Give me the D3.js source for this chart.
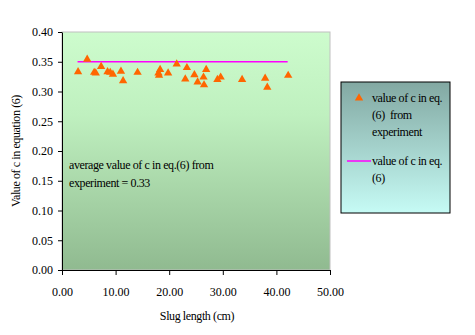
<!DOCTYPE html>
<html><head><meta charset="utf-8">
<script src="https://cdn.jsdelivr.net/npm/d3@7"></script>
<style>body{margin:0;background:#fff}svg{display:block}text{font-family:"Liberation Serif","Times New Roman",serif}</style>
</head><body>
<svg id="c" width="475" height="335"></svg>
<script>
const slugLength = [3.0,4.7,6.0,6.3,7.3,8.5,9.0,9.5,11.0,11.4,14.1,18.0,18.3,18.1,19.8,21.4,23.3,23.0,24.7,25.3,26.9,26.4,26.5,29.0,29.6,33.6,37.9,38.3,42.2];
const cExperiment = [0.333,0.354,0.332,0.331,0.342,0.333,0.332,0.329,0.334,0.318,0.332,0.331,0.337,0.327,0.331,0.346,0.340,0.321,0.328,0.316,0.337,0.324,0.311,0.320,0.324,0.320,0.322,0.307,0.327];
const lineX = [2.9,42.1];
const lineY = [0.35,0.35];
const xTicks = [0,10,20,30,40,50];
const yTicks = [0,0.05,0.10,0.15,0.20,0.25,0.30,0.35,0.40];

const svg = d3.select("#c");
const L=62,R=330,T=32,B=270;
const x = d3.scaleLinear().domain([0,50]).range([L,R]);
const y = d3.scaleLinear().domain([0,0.40]).range([B,T]);

const defs = svg.append("defs");
const g1 = defs.append("linearGradient").attr("id","pg").attr("x1",0).attr("y1",0).attr("x2",0).attr("y2",1);
g1.append("stop").attr("offset","0%").attr("stop-color","#cdfccd");
g1.append("stop").attr("offset","35%").attr("stop-color","#bff0bf");
g1.append("stop").attr("offset","100%").attr("stop-color","#90ba90");
const g2 = defs.append("linearGradient").attr("id","lg").attr("x1",0).attr("y1",0).attr("x2",0).attr("y2",1);
g2.append("stop").attr("offset","0%").attr("stop-color","#82a8a2");
g2.append("stop").attr("offset","100%").attr("stop-color","#c6fbf5");

svg.append("rect").attr("x",L).attr("y",T).attr("width",R-L).attr("height",B-T)
  .attr("fill","url(#pg)").attr("stroke","#c0c0c0").attr("stroke-width",1);

// axes
const ya = svg.append("g").attr("transform",`translate(${L},0)`)
  .call(d3.axisLeft(y).tickValues(yTicks).tickFormat(d3.format(".2f")).tickSize(4).tickSizeOuter(0));
const xa = svg.append("g").attr("transform",`translate(0,${B})`)
  .call(d3.axisBottom(x).tickValues(xTicks).tickFormat(d3.format(".2f")).tickSize(5).tickSizeOuter(0));
[ya,xa].forEach(a=>{a.select(".domain").attr("stroke","#000");a.selectAll("line").attr("stroke","#000");
  a.selectAll("text").attr("font-size",12).attr("font-family","Liberation Serif").attr("fill","#000");});
ya.selectAll("text").attr("x",-9);
xa.selectAll("text").attr("y",17);

// line
svg.append("path").datum(lineX.map((v,i)=>[v,lineY[i]]))
  .attr("d",d3.line().x(d=>x(d[0])).y(d=>y(d[1])))
  .attr("stroke","#ff00ff").attr("stroke-width",1.5).attr("fill","none");

// points
const tri = d3.symbol().type(d3.symbolTriangle).size(30);
svg.append("g").selectAll("path").data(slugLength.map((v,i)=>[v,cExperiment[i]])).join("path")
  .attr("d",tri).attr("transform",d=>`translate(${x(d[0])},${y(d[1])})`).attr("fill","#ff6600");

// annotation
const ann = svg.append("text").attr("x",69).attr("y",169).attr("font-size",12).attr("letter-spacing",-0.4).attr("fill","#000");
ann.append("tspan").attr("x",69).text("average value of c in eq.(6) from");
ann.append("tspan").attr("x",69).attr("dy",18).text("experiment = 0.33");

// axis titles
svg.append("text").attr("x",197).attr("y",320).attr("text-anchor","middle").attr("font-size",12).attr("letter-spacing",-0.4).text("Slug length (cm)");
svg.append("text").attr("transform","translate(20,151) rotate(-90)").attr("text-anchor","middle").attr("font-size",12).attr("letter-spacing",-0.4).text("Value of c in equation (6)");

// legend
svg.append("rect").attr("x",341).attr("y",82).attr("width",109).attr("height",131).attr("fill","url(#lg)").attr("stroke","#000");
svg.append("path").attr("d",tri).attr("transform","translate(359,98)").attr("fill","#ff6600");
const lt1 = svg.append("text").attr("font-size",12).attr("letter-spacing",-0.4);
[["value of c in eq.",102],["(6)  from",119],["experiment",136]].forEach(([t,yy])=>lt1.append("tspan").attr("x",372).attr("y",yy).attr("xml:space","preserve").text(t));
svg.append("line").attr("x1",347).attr("x2",371).attr("y1",161).attr("y2",161).attr("stroke","#ff00ff").attr("stroke-width",1.5);
const lt2 = svg.append("text").attr("font-size",12).attr("letter-spacing",-0.4);
[["value of c in eq.",165],["(6)",182]].forEach(([t,yy])=>lt2.append("tspan").attr("x",372).attr("y",yy).text(t));
</script>
</body></html>
